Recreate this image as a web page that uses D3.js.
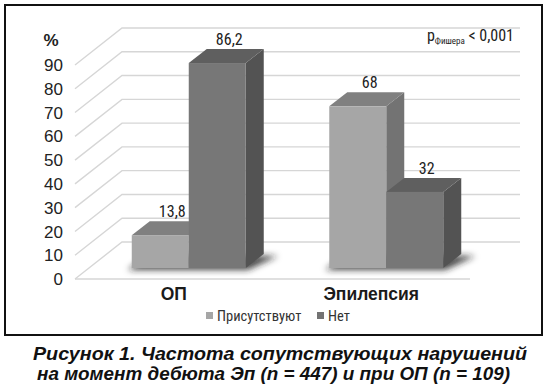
<!DOCTYPE html>
<html>
<head>
<meta charset="utf-8">
<script src="https://cdn.jsdelivr.net/npm/d3@7"></script>
<style>
  body { margin: 0; background: #fff; }
  svg { display: block; }
  .narrow { font-family: "Liberation Sans Narrow", "Arial Narrow", "Roboto Condensed", sans-serif; }
  .sans { font-family: "Liberation Sans", Arial, sans-serif; }
</style>
</head>
<body>
<div id="chart"></div>
<script>
const categories = ['ОП', 'Эпилепсия'];
const seriesNames = ['Присутствуют', 'Нет'];
const presentValues = [13.8, 68];
const absentValues = [86.2, 32];
const yTicks = [0, 10, 20, 30, 40, 50, 60, 70, 80, 90];

const W = 548, H = 386;
const svg = d3.select('#chart').append('svg')
  .attr('width', W).attr('height', H);

const defs = svg.append('defs');
defs.append('filter').attr('id', 'shadow')
  .attr('x', '-30%').attr('y', '-60%').attr('width', '160%').attr('height', '220%')
  .append('feGaussianBlur').attr('stdDeviation', 3);

// frame
svg.append('rect')
  .attr('x', 5).attr('y', 5).attr('width', 537).attr('height', 330)
  .attr('fill', '#fff').attr('stroke', '#111').attr('stroke-width', 2);

// front plane of the floor, depth vector of the walls
const floorLeft = 75, floorRight = 470, wallRight = 520;
const depth = { dx: 47, dy: -37 };

const y = d3.scaleLinear().domain([0, 90]).range([279, 65]);
const x0 = d3.scaleBand().domain(categories).range([floorLeft, floorRight]);
const x1 = d3.scaleBand().domain(seriesNames).range([0, 114]);

// gridlines: side wall diagonals + back wall lines
const grid = svg.append('g').attr('stroke', '#d6d6d6').attr('stroke-width', 1.4).attr('fill', 'none');
yTicks.forEach(t => {
  const yf = y(t), yb = y(t) + depth.dy, xb = floorLeft + depth.dx;
  grid.append('path').attr('d', `M${floorLeft},${yf}L${xb},${yb}L${wallRight},${yb}`);
});
grid.append('line')
  .attr('x1', floorLeft).attr('x2', floorRight)
  .attr('y1', y(0)).attr('y2', y(0));

// y labels
svg.append('g').attr('class', 'sans')
  .selectAll('text').data(yTicks).enter().append('text')
  .attr('x', 63).attr('y', d => y(d))
  .attr('dy', '0.36em')
  .attr('text-anchor', 'end')
  .attr('font-size', 17)
  .attr('fill', '#222')
  .text(d => d);

svg.append('text').attr('class', 'sans')
  .attr('x', 51).attr('y', 40).attr('dy', '0.36em')
  .attr('text-anchor', 'middle')
  .attr('font-size', 17).attr('font-weight', 'bold').attr('fill', '#222')
  .text('%');

// bars
const barOffset = { dx: 15, dy: -11 };   // position of bar front within the floor depth
const barDepth = { dx: 18, dy: -14 };
const colors = {
  'Присутствуют': { front: '#a6a6a6', top: '#808080', side: '#737373', legend: '#a6a6a6' },
  'Нет': { front: '#777777', top: '#5f5f5f', side: '#535353', legend: '#737373' }
};

const barData = [];
categories.forEach((c, i) => {
  barData.push({ cat: c, series: seriesNames[0], value: presentValues[i] });
  barData.push({ cat: c, series: seriesNames[1], value: absentValues[i] });
});

// soft shadow on the floor under every group
const shadows = svg.append('g').attr('filter', 'url(#shadow)');
categories.forEach(c => {
  const xl = x0(c) + x0.bandwidth() / 2 - 57 + barOffset.dx;
  const xr = xl + 114;
  const yb = y(0) + barOffset.dy;
  shadows.append('path')
    .attr('d', `M${xl - 4},${yb + 2}L${xr + 2},${yb + 2}L${xr + barDepth.dx + 14},${yb + barDepth.dy + 2}L${xl + barDepth.dx},${yb + barDepth.dy}Z`)
    .attr('fill', '#222').attr('opacity', 0.8);
});

const bars = svg.append('g');
barData.forEach(d => {
  const xl = x0(d.cat) + x0.bandwidth() / 2 - 57 + x1(d.series) + barOffset.dx;
  const xr = xl + x1.bandwidth();
  const yb = y(0) + barOffset.dy;
  const yt = y(d.value) + barOffset.dy;
  const c = colors[d.series];
  const g = bars.append('g');
  g.append('path')
    .attr('d', `M${xr},${yb}L${xr + barDepth.dx},${yb + barDepth.dy}L${xr + barDepth.dx},${yt + barDepth.dy}L${xr},${yt}Z`)
    .attr('fill', c.side);
  g.append('path')
    .attr('d', `M${xl},${yt}L${xl + barDepth.dx},${yt + barDepth.dy}L${xr + barDepth.dx},${yt + barDepth.dy}L${xr},${yt}Z`)
    .attr('fill', c.top);
  g.append('rect')
    .attr('x', xl).attr('y', yt).attr('width', xr - xl).attr('height', yb - yt)
    .attr('fill', c.front);

  g.append('text').attr('class', 'narrow')
    .attr('x', (xl + xr) / 2 + barDepth.dx / 2 + 3)
    .attr('y', yt + barDepth.dy - 10)
    .attr('dy', '0.36em')
    .attr('text-anchor', 'middle')
    .attr('font-size', 16).attr('fill', '#222')
    .text(String(d.value).replace('.', ','));
});

// category labels
svg.append('g').attr('class', 'sans')
  .selectAll('text').data(categories).enter().append('text')
  .attr('x', d => x0(d) + x0.bandwidth() / 2)
  .attr('y', 294).attr('dy', '0.36em')
  .attr('text-anchor', 'middle')
  .attr('font-size', 17.5).attr('font-weight', 'bold').attr('fill', '#1a1a1a')
  .text(d => d);

// p value
const p = svg.append('text').attr('class', 'narrow')
  .attr('x', 514).attr('y', 41).attr('text-anchor', 'end')
  .attr('font-size', 16).attr('fill', '#222');
p.append('tspan').text('p');
p.append('tspan').attr('font-size', 9).attr('dy', 3).text('Фишера');
p.append('tspan').attr('dy', -3).text(' < 0,001');

// legend
const legend = svg.append('g').attr('class', 'narrow');
const legendX = [206, 317];
seriesNames.forEach((s, i) => {
  legend.append('rect')
    .attr('x', legendX[i]).attr('y', 312).attr('width', 7).attr('height', 7)
    .attr('fill', colors[s].legend);
  legend.append('text')
    .attr('x', legendX[i] + 11).attr('y', 316).attr('dy', '0.36em')
    .attr('font-size', 14.5).attr('fill', '#333')
    .text(s);
});

// caption
const captionLines = [
  'Рисунок 1. Частота сопутствующих нарушений',
  'на момент дебюта Эп (n = 447) и при ОП (n = 109)'
];
const captionPos = [{ x: 33, w: 494, y: 360 }, { x: 37, w: 473, y: 380 }];
captionLines.forEach((t, i) => {
  svg.append('text').attr('class', 'sans')
    .attr('x', captionPos[i].x).attr('y', captionPos[i].y)
    .attr('textLength', captionPos[i].w).attr('lengthAdjust', 'spacingAndGlyphs')
    .attr('font-size', 19).attr('font-weight', 'bold').attr('font-style', 'italic')
    .attr('fill', '#111')
    .text(t);
});
</script>
</body>
</html>
